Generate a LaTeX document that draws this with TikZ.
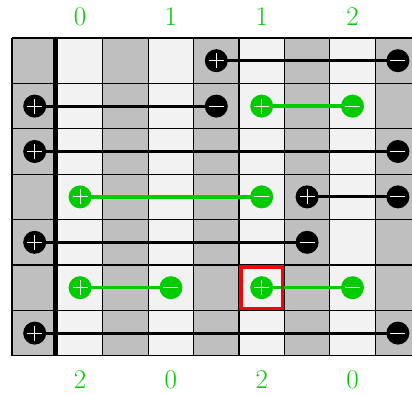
\documentclass[tikz,border=0pt]{standalone}
\usetikzlibrary{calc}
\definecolor{gdark}{RGB}{191,191,191}
\definecolor{glight}{RGB}{242,242,242}
\definecolor{lgreen}{RGB}{0,204,0}
\pgfdeclarelayer{bg}
\pgfsetlayers{bg,main}
\tikzset{
  x=1pt,y=-1pt,
  chg/.style={circle,minimum size=23pt,inner sep=0pt,draw=none},
  plussign/.style={path picture={\draw[white,line width=0.9pt]
      ([xshift=-7.5pt]path picture bounding box.center) -- ([xshift=7.5pt]path picture bounding box.center)
      ([yshift=-7.5pt]path picture bounding box.center) -- ([yshift=7.5pt]path picture bounding box.center);}},
  minussign/.style={path picture={\draw[white,line width=0.9pt]
      ([xshift=-7.5pt]path picture bounding box.center) -- ([xshift=7.5pt]path picture bounding box.center);}},
  bplus/.style={chg,fill=black,plussign},
  bminus/.style={chg,fill=black,minussign},
  gplus/.style={chg,fill=lgreen,plussign},
  gminus/.style={chg,fill=lgreen,minussign},
  bwire/.style={draw=black,line width=3pt},
  gwire/.style={draw=lgreen,line width=3.5pt},
  lbl/.style={text=lgreen,font=\fontsize{27}{30}\selectfont,inner sep=0pt},
  gridline/.style={draw=black,line width=1.2pt},
}
\begin{document}
\begin{tikzpicture}
\useasboundingbox (0,0) rectangle (412,394);
\def\cw{45.4}
\begin{pgfonlayer}{bg}
  \foreach \i in {0,...,8} {
    \pgfmathsetmacro{\xa}{12+\cw*\i}
    \pgfmathsetmacro{\xb}{12+\cw*(\i+1)}
    \pgfmathparse{mod(\i,2)==0 ? "gdark" : "glight"}
    \edef\cc{\pgfmathresult}
    \fill[\cc] (\xa,38) rectangle (\xb,355.8);
  }
  \foreach \i in {0,...,9} {
    \pgfmathsetmacro{\xa}{12+\cw*\i}
    \draw[gridline] (\xa,38) -- (\xa,355.8);
  }
  \foreach \j in {0,...,7} {
    \pgfmathsetmacro{\ya}{38+\cw*\j}
    \draw[gridline] (12,\ya) -- (421,\ya);
  }
  \draw[line width=4.2pt] (55.2,38) -- (55.2,355.8);
\end{pgfonlayer}
% column centres: 34.7 80.1 125.5 170.9 216.3 261.7 307.1 352.5 397.9
% row centres: 60.7 106.1 151.5 196.9 242.3 287.7 333.1
% row 1
\node[bplus]  (r1a) at (216.3,60.7) {};
\node[bminus] (r1b) at (397.9,60.7) {};
% row 2
\node[bplus]  (r2a) at (34.7,106.1) {};
\node[bminus] (r2b) at (216.3,106.1) {};
\node[gplus]  (r2c) at (261.7,106.1) {};
\node[gminus] (r2d) at (352.5,106.1) {};
% row 3
\node[bplus]  (r3a) at (34.7,151.5) {};
\node[bminus] (r3b) at (397.9,151.5) {};
% row 4
\node[gplus]  (r4a) at (80.1,196.9) {};
\node[gminus] (r4b) at (261.7,196.9) {};
\node[bplus]  (r4c) at (307.1,196.9) {};
\node[bminus] (r4d) at (397.9,196.9) {};
% row 5
\node[bplus]  (r5a) at (34.7,242.3) {};
\node[bminus] (r5b) at (307.1,242.3) {};
% row 6
\node[gplus]  (r6a) at (80.1,287.7) {};
\node[gminus] (r6b) at (170.9,287.7) {};
\node[gplus]  (r6c) at (261.7,287.7) {};
\node[gminus] (r6d) at (352.5,287.7) {};
% row 7
\node[bplus]  (r7a) at (34.7,333.1) {};
\node[bminus] (r7b) at (397.9,333.1) {};
\begin{pgfonlayer}{bg}
  \draw[bwire] (r1a.center) -- (r1b.center);
  \draw[bwire] (r2a.center) -- (r2b.center);
  \draw[gwire] (r2c.center) -- (r2d.center);
  \draw[bwire] (r3a.center) -- (r3b.center);
  \draw[gwire] (r4a.center) -- (r4b.center);
  \draw[bwire] (r4c.center) -- (r4d.center);
  \draw[bwire] (r5a.center) -- (r5b.center);
  \draw[gwire] (r6a.center) -- (r6b.center);
  \draw[gwire] (r6c.center) -- (r6d.center);
  \draw[bwire] (r7a.center) -- (r7b.center);
\end{pgfonlayer}
% highlighted cell
\node[draw=red,line width=3.6pt,minimum size=41.6pt,inner sep=0pt] (hl) at (261.7,287.7) {};
% labels
\node[lbl] (t1) at (80.1,16.5) {0};
\node[lbl] (t2) at (170.9,16.5) {1};
\node[lbl] (t3) at (261.7,16.5) {1};
\node[lbl] (t4) at (352.5,16.5) {2};
\node[lbl] (b1) at (80.1,379.5) {2};
\node[lbl] (b2) at (170.9,379.5) {0};
\node[lbl] (b3) at (261.7,379.5) {2};
\node[lbl] (b4) at (352.5,379.5) {0};
\end{tikzpicture}
\end{document}
